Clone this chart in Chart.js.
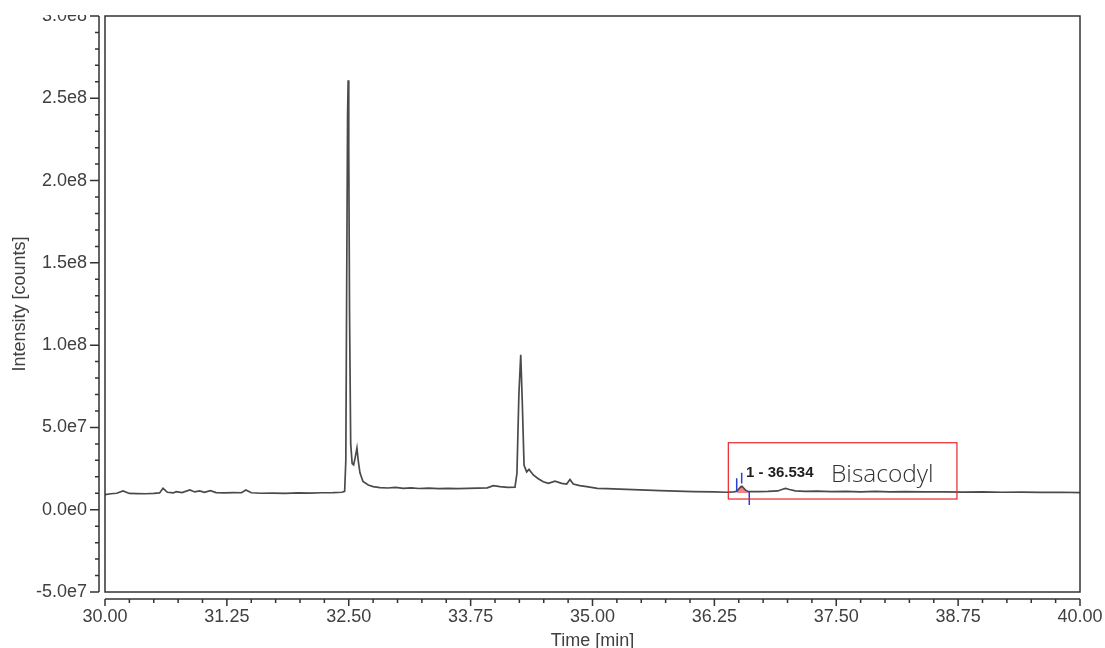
<!DOCTYPE html>
<html><head><meta charset="utf-8">
<script src="https://cdn.jsdelivr.net/npm/chart.js@4.4.1/dist/chart.umd.min.js"></script>
<style>
html,body{margin:0;padding:0;background:#fff;overflow:hidden;width:1105px;height:648px;}
#wrap{position:absolute;left:0;top:15px;width:1105px;height:633px;overflow:hidden;}
#c{position:absolute;left:0;top:-15px;}
</style></head><body>
<div id="wrap"><canvas id="c" width="1105" height="660" style="width:1105px;height:660px"></canvas></div>
<script>
// ---- data (time in min, intensity in counts) ----
const times = [30.00,30.06,30.12,30.185,30.25,30.33,30.42,30.50,30.56,30.595,30.64,30.70,30.73,30.79,30.87,30.92,30.97,31.02,31.08,31.14,31.22,31.32,31.40,31.445,31.50,31.60,31.72,31.85,31.98,32.10,32.22,32.34,32.43,32.458,32.470,32.480,32.488,32.494,32.500,32.508,32.520,32.535,32.550,32.567,32.584,32.597,32.615,32.646,32.70,32.75,32.82,32.90,32.98,33.06,33.14,33.22,33.32,33.42,33.52,33.62,33.72,33.82,33.92,33.983,34.05,34.13,34.205,34.225,34.245,34.264,34.280,34.298,34.325,34.349,34.393,34.44,34.495,34.547,34.615,34.684,34.735,34.769,34.803,34.87,34.941,35.05,35.146,35.35,35.692,36.034,36.25,36.376,36.45,36.479,36.50,36.52,36.534,36.55,36.57,36.59,36.62,36.70,36.80,36.90,36.95,36.98,37.02,37.08,37.18,37.30,37.45,37.60,37.75,37.90,38.05,38.20,38.40,38.60,38.80,39.00,39.20,39.40,39.60,39.80,40.00];
const intensity = [9.2e6,9.7e6,1.00e7,1.14e7,9.9e6,9.8e6,9.7e6,9.9e6,1.02e7,1.30e7,1.06e7,1.02e7,1.10e7,1.04e7,1.20e7,1.08e7,1.14e7,1.06e7,1.16e7,1.04e7,1.02e7,1.04e7,1.03e7,1.20e7,1.03e7,1.00e7,1.01e7,9.9e6,1.02e7,1.01e7,1.03e7,1.04e7,1.06e7,1.12e7,3.0e7,1.5e8,2.4e8,2.61e8,2.2e8,1.2e8,4.0e7,2.8e7,2.72e7,3.2e7,3.75e7,3.0e7,2.24e7,1.71e7,1.50e7,1.40e7,1.34e7,1.32e7,1.36e7,1.30e7,1.33e7,1.29e7,1.31e7,1.28e7,1.30e7,1.28e7,1.30e7,1.31e7,1.33e7,1.46e7,1.40e7,1.36e7,1.37e7,2.2e7,7.0e7,9.42e7,6.5e7,2.7e7,2.3e7,2.45e7,2.11e7,1.90e7,1.70e7,1.60e7,1.74e7,1.60e7,1.56e7,1.84e7,1.56e7,1.46e7,1.40e7,1.30e7,1.28e7,1.24e7,1.16e7,1.10e7,1.08e7,1.06e7,1.08e7,1.12e7,1.26e7,1.39e7,1.42e7,1.32e7,1.19e7,1.12e7,1.10e7,1.10e7,1.11e7,1.14e7,1.24e7,1.30e7,1.23e7,1.15e7,1.12e7,1.13e7,1.10e7,1.12e7,1.09e7,1.11e7,1.09e7,1.10e7,1.08e7,1.09e7,1.07e7,1.08e7,1.06e7,1.07e7,1.05e7,1.06e7,1.04e7];

// integrated peak (Bisacodyl)
const peakTimes = [36.479,36.50,36.52,36.534,36.55,36.57,36.59,36.608];
const peakValues = [1.12e7,1.26e7,1.39e7,1.42e7,1.32e7,1.19e7,1.12e7,1.10e7];
const peakBaseline = 1.02e7;
const markerTimes = [36.479,36.530,36.608];
const markerLow = [1.10e7,1.60e7,2.9e6];
const markerHigh = [1.91e7,2.25e7,1.14e7];
const peakLabel = '1 - 36.534';
const peakLabelPos = [36.574, 2.22e7];
const compoundName = 'Bisacodyl';
const compoundPos = [37.446, 1.67e7];
const boxTimes = [36.393, 38.738];
const boxValues = [6.5e6, 4.07e7];

// axes
const xTickValues = [30.00,31.25,32.50,33.75,35.00,36.25,37.50,38.75,40.00];
const xTickLabels = ['30.00','31.25','32.50','33.75','35.00','36.25','37.50','38.75','40.00'];
const yTickValues = [-5e7,0,5e7,1e8,1.5e8,2e8,2.5e8,3e8];
const yTickLabels = ['-5.0e7','0.0e0','5.0e7','1.0e8','1.5e8','2.0e8','2.5e8','3.0e8'];
const xMinorStep = 0.25, yMinorStep = 1e7;
const xTitle = 'Time [min]';
const yTitle = 'Intensity [counts]';

const FONT = "'Liberation Sans', Arial, sans-serif";
const TXT = '#404040';

const axesPlugin = {
  id: 'axesFrame',
  afterDraw(chart) {
    const {ctx, chartArea: a, scales: {x, y}} = chart;
    ctx.save();
    ctx.strokeStyle = '#333';
    ctx.lineWidth = 1.5;
    ctx.strokeRect(a.left, a.top, a.right - a.left, a.bottom - a.top);
    const ax = a.left - 6;
    const yTop = y.getPixelForValue(y.max), yBot = y.getPixelForValue(y.min);
    ctx.beginPath();
    ctx.moveTo(ax, yTop); ctx.lineTo(ax, yBot);
    const nY = Math.round((y.max - y.min) / yMinorStep);
    for (let i = 0; i <= nY; i++) {
      const v = y.min + i * yMinorStep;
      const p = y.getPixelForValue(v);
      const major = i % 5 === 0;
      ctx.moveTo(ax, p); ctx.lineTo(ax - (major ? 9 : 4), p);
    }
    const ay = a.bottom + 7;
    const xL = x.getPixelForValue(x.min), xR = x.getPixelForValue(x.max);
    ctx.moveTo(xL, ay); ctx.lineTo(xR, ay);
    const nX = Math.round((x.max - x.min) / xMinorStep);
    for (let i = 0; i <= nX; i++) {
      const v = x.min + i * xMinorStep;
      const p = x.getPixelForValue(v);
      const major = i % 5 === 0;
      ctx.moveTo(p, ay); ctx.lineTo(p, ay + (major ? 7 : 4));
    }
    ctx.stroke();
    ctx.restore();
  },
  afterDatasetsDraw(chart) {
    const {ctx, scales: {x, y}} = chart;
    ctx.save();
    ctx.strokeStyle = '#2b3fd6';
    ctx.lineWidth = 1.5;
    ctx.beginPath();
    markerTimes.forEach((t, i) => {
      const px = x.getPixelForValue(t);
      ctx.moveTo(px, y.getPixelForValue(markerLow[i]));
      ctx.lineTo(px, y.getPixelForValue(markerHigh[i]));
    });
    ctx.stroke();
    ctx.strokeStyle = '#e8262a';
    ctx.lineWidth = 1.2;
    const bx1 = x.getPixelForValue(boxTimes[0]), bx2 = x.getPixelForValue(boxTimes[1]);
    const by1 = y.getPixelForValue(boxValues[1]), by2 = y.getPixelForValue(boxValues[0]);
    ctx.strokeRect(bx1, by1, bx2 - bx1, by2 - by1);
    ctx.fillStyle = '#1e1e1e';
    ctx.font = "bold 15px " + FONT;
    ctx.textAlign = 'left';
    ctx.textBaseline = 'middle';
    ctx.fillText(peakLabel, x.getPixelForValue(peakLabelPos[0]), y.getPixelForValue(peakLabelPos[1]));
    ctx.fillStyle = '#333';
    ctx.font = "300 24.5px 'Open Sans', 'Noto Sans', sans-serif";
    ctx.textBaseline = 'alphabetic';
    ctx.fillText(compoundName, x.getPixelForValue(compoundPos[0]), y.getPixelForValue(compoundPos[1]));
    ctx.restore();
  }
};

new Chart(document.getElementById('c'), {
  type: 'line',
  data: {
    datasets: [
      {
        data: times.map((t, i) => ({x: t, y: intensity[i]})),
        borderColor: '#4a4a4a',
        borderWidth: 1.7,
        pointRadius: 0,
        tension: 0,
        fill: false
      },
      {
        data: peakTimes.map((t, i) => ({x: t, y: peakValues[i]})),
        borderWidth: 0,
        borderColor: 'rgba(0,0,0,0)',
        backgroundColor: 'rgba(240,90,90,0.75)',
        pointRadius: 0,
        tension: 0,
        fill: {value: peakBaseline}
      }
    ]
  },
  options: {
    responsive: false,
    animation: false,
    events: [],
    layout: {padding: {top: 16, right: 25, left: 0, bottom: 0}},
    plugins: {legend: {display: false}, tooltip: {enabled: false}},
    scales: {
      x: {
        type: 'linear', min: 30, max: 40,
        afterBuildTicks(s) { s.ticks = xTickValues.map(v => ({value: v})); },
        afterFit(s) { s.height = 68; s.paddingLeft = 0; s.paddingRight = 0; },
        grid: {display: false, drawTicks: false},
        border: {display: false},
        ticks: {
          autoSkip: false, maxRotation: 0, padding: 14, color: TXT,
          font: {family: FONT, size: 18},
          callback(v, i) { return xTickLabels[i]; }
        },
        title: {display: true, text: xTitle, color: TXT, font: {family: FONT, size: 18}, padding: {top: 0, bottom: 8}}
      },
      y: {
        type: 'linear', min: -5e7, max: 3e8,
        afterBuildTicks(s) { s.ticks = yTickValues.map(v => ({value: v})); },
        afterFit(s) { s.width = 105; s.paddingTop = 0; s.paddingBottom = 0; },
        grid: {display: false, drawTicks: false},
        border: {display: false},
        ticks: {
          autoSkip: false, padding: 18, color: TXT,
          font: {family: FONT, size: 18},
          callback(v, i) { return yTickLabels[i]; }
        },
        title: {display: true, text: yTitle, color: TXT, font: {family: FONT, size: 18}, padding: {top: 9, bottom: 0}}
      }
    }
  },
  plugins: [axesPlugin]
});
</script>
</body></html>
